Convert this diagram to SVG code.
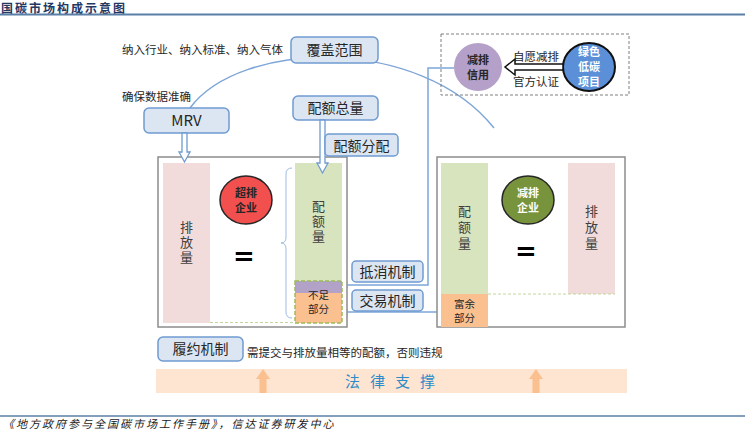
<svg xmlns="http://www.w3.org/2000/svg" width="745" height="431" viewBox="0 0 745 431">
<defs>
<style>
text{font-family:"Noto Sans CJK SC","Noto Sans",sans-serif;fill:#262626}
.box{fill:#dce6f2;stroke:#6f9bd1;stroke-width:1.5}
.bt{font-size:14px;text-anchor:middle}
.lab{font-size:11.5px}
.col{font-size:13px;text-anchor:middle;fill:#404040;writing-mode:vertical-rl}
.ct{font-size:11px;font-weight:bold;text-anchor:middle}
.sm{font-size:10.5px;text-anchor:middle}
.conn{fill:none;stroke:#7ea6d8;stroke-width:1.5}
.hollow{fill:#fff;stroke:#6f9bd1;stroke-width:1.3}
.frame{fill:#fff;stroke:#8c8c8c;stroke-width:1.5}
</style>
<marker id="ah" viewBox="0 0 10 10" refX="9" refY="5" markerWidth="7" markerHeight="7" orient="auto" markerUnits="userSpaceOnUse">
<path d="M1,1 L9,5 L1,9" fill="none" stroke="#7ea6d8" stroke-width="1.6"/>
</marker>
</defs>
<rect width="745" height="431" fill="#fff"/>

<g id="title">
<text x="1" y="13" style="font-size:12px;font-weight:bold;fill:#1f3864;letter-spacing:2px">国碳市场构成示意图</text>
<line x1="0" y1="14.5" x2="745" y2="14.5" stroke="#5b7fa6" stroke-width="2"/>
</g>

<g id="connectors">
<path class="conn" d="M190,108 C240,40 420,35 494,128" stroke="#8db3e2" stroke-width="1.2"/>
<path class="conn" d="M454,68 L428,68 L428,285 L342,285" marker-end="url(#ah)"/>
<path class="conn" d="M441,312 L342,312" marker-end="url(#ah)"/>
</g>

<g id="coverage">
<rect class="box" x="291" y="37" width="87" height="26" rx="5"/>
<text class="bt" x="334.5" y="55">覆盖范围</text>
<text class="lab" x="122" y="54">纳入行业、纳入标准、纳入气体</text>
</g>

<g id="mrv">
<rect class="box" x="144" y="108" width="85" height="25" rx="5"/>
<text class="bt" x="186.5" y="126" style="font-size:15px">MRV</text>
<text class="lab" x="122" y="101">确保数据准确</text>
</g>

<g id="quota-total">
<rect class="box" x="293" y="96" width="85" height="24" rx="5"/>
<text class="bt" x="335.5" y="113">配额总量</text>
</g>

<g id="left-frame">
<rect class="frame" x="158" y="157" width="189" height="170"/>
<rect x="163" y="163" width="47" height="160" fill="#f2dcdb"/>
<text class="col" x="186.5" y="243" style="letter-spacing:2px">排放量</text>
<line x1="210" y1="322.5" x2="295" y2="322.5" stroke="#c3d69b" stroke-width="1" stroke-dasharray="3,2"/>
<rect x="295" y="163" width="47" height="118" fill="#d7e4bd"/>
<text class="col" x="318.5" y="222" style="letter-spacing:2px">配额量</text>
<rect x="295" y="281" width="47" height="12" fill="#b3a2c7"/>
<rect x="295" y="293" width="47" height="30" fill="#fac090"/>
<rect x="295" y="281" width="47" height="42" fill="none" stroke="#9bbb59" stroke-width="1.5" stroke-dasharray="4,2"/>
<text class="sm" x="318.5" y="299">不足</text>
<text class="sm" x="318.5" y="312.5">部分</text>
<path d="M292,168 Q286,168 286,174 L286,237 Q286,243 281,243 Q286,243 286,249 L286,312 Q286,318 292,318" fill="none" stroke="#9dbbe0" stroke-width="1"/>
</g>

<g id="over-emitter">
<ellipse cx="246" cy="200" rx="26" ry="24" fill="#f24f4f" stroke="#262626" stroke-width="1.5"/>
<text class="ct" x="246" y="196.5">超排</text>
<text class="ct" x="246" y="211.5">企业</text>
<text x="244" y="265" style="font-family:'DejaVu Sans',sans-serif;font-size:26px;font-weight:bold;text-anchor:middle;fill:#000">=</text>
</g>

<g id="mrv-arrow">
<path class="hollow" d="M182,133 L187,133 L187,152 L190,152 L184.5,162 L179,152 L182,152 Z"/>
</g>

<g id="quota-arrow">
<path class="hollow" d="M320,120 L325,120 L325,163 L328,163 L322.5,173 L317,163 L320,163 Z"/>
</g>

<g id="quota-alloc">
<rect class="box" x="325" y="134" width="73" height="22" rx="4"/>
<text class="bt" x="361.5" y="150.5">配额分配</text>
</g>

<g id="right-frame">
<rect class="frame" x="437" y="157" width="188" height="170"/>
<rect x="441" y="163" width="47" height="131" fill="#d7e4bd"/>
<text class="col" x="464.5" y="229" style="letter-spacing:3px">配额量</text>
<rect x="441" y="294" width="47" height="33" fill="#fac090"/>
<text class="sm" x="464.5" y="308">富余</text>
<text class="sm" x="464.5" y="322">部分</text>
<rect x="568" y="163" width="47" height="131" fill="#f2dcdb"/>
<text class="col" x="591.5" y="229" style="letter-spacing:3px">排放量</text>
<line x1="488" y1="294" x2="615" y2="294" stroke="#c3d69b" stroke-width="1" stroke-dasharray="3,2"/>
</g>

<g id="reducer">
<ellipse cx="528" cy="200" rx="26" ry="24" fill="#77933c" stroke="#262626" stroke-width="1.5"/>
<text class="ct" x="528" y="196.5" style="fill:#fff">减排</text>
<text class="ct" x="528" y="211.5" style="fill:#fff">企业</text>
<text x="526" y="260" style="font-family:'DejaVu Sans',sans-serif;font-size:26px;font-weight:bold;text-anchor:middle;fill:#000">=</text>
</g>

<g id="offset">
<rect class="box" x="352" y="261" width="71" height="21" rx="4"/>
<text class="bt" x="387.5" y="276.5">抵消机制</text>
</g>

<g id="trade">
<rect class="box" x="352" y="290" width="71" height="21" rx="4"/>
<text class="bt" x="387.5" y="305.5">交易机制</text>
</g>

<g id="ccer">
<rect x="441" y="34" width="188" height="61" fill="none" stroke="#7f7f7f" stroke-width="1" stroke-dasharray="3,2"/>
<ellipse cx="478" cy="67" rx="24" ry="24" fill="#b4a0c8"/>
<text class="ct" x="478" y="63.5">减排</text>
<text class="ct" x="478" y="78.5">信用</text>
<ellipse cx="589" cy="67" rx="26" ry="24" fill="#5b8fd8" stroke="#111" stroke-width="2"/>
<text class="ct" x="589" y="56" style="fill:#fff">绿色</text>
<text class="ct" x="589" y="71" style="fill:#fff">低碳</text>
<text class="ct" x="589" y="86" style="fill:#fff">项目</text>
<path d="M563,64 L515,64 L515,59 L505,67 L515,75 L515,70 L563,70 Z" fill="#fff" stroke="#111" stroke-width="1.5"/>
<text class="lab" x="513" y="61">自愿减排</text>
<text class="lab" x="513" y="86">官方认证</text>
</g>

<g id="compliance">
<rect class="box" x="158" y="337" width="85" height="24" rx="5"/>
<text class="bt" x="200.5" y="354">履约机制</text>
<text x="247" y="357" style="font-size:11.5px">需提交与排放量相等的配额，否则违规</text>
</g>

<g id="legal">
<rect x="156" y="369" width="471" height="24" fill="#fde5d1"/>
<path d="M263,369 L270,379 L266.5,379 L266.5,393 L259.5,393 L259.5,379 L256,379 Z" fill="#fac090"/>
<path d="M536,369 L543,379 L539.5,379 L539.5,393 L532.5,393 L532.5,379 L529,379 Z" fill="#fac090"/>
<text x="395" y="387" style="font-size:15px;text-anchor:middle;fill:#2e8bc9;letter-spacing:10px">法律支撑</text>
</g>

<g id="footer">
<line x1="0" y1="416" x2="745" y2="416" stroke="#5b7fa6" stroke-width="1.5"/>
<text x="3" y="428" style="font-size:11px;font-style:italic;letter-spacing:2px;fill:#1a1a1a">《地方政府参与全国碳市场工作手册》，信达证券研发中心</text>
</g>
</svg>
